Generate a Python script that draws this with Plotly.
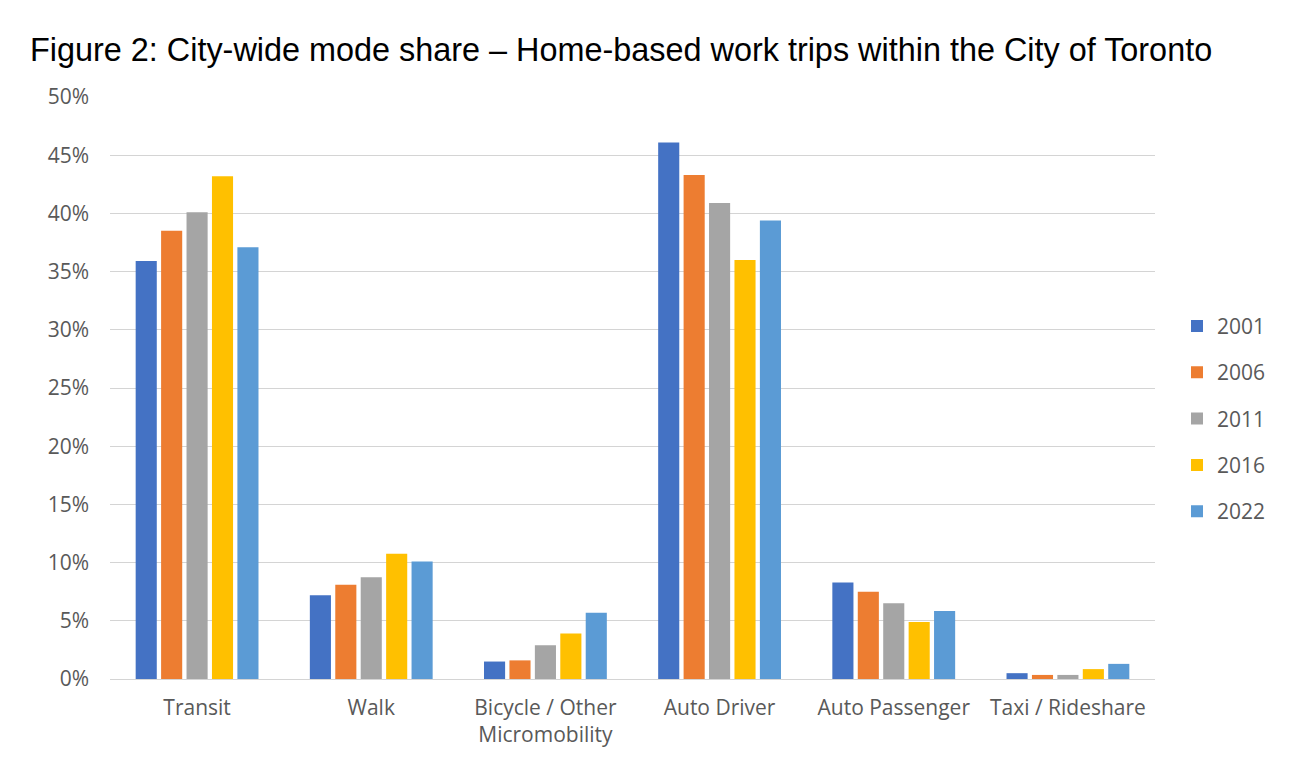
import plotly.graph_objects as go

modes = ["Transit", "Walk", "Bicycle / Other<br>Micromobility", "Auto Driver",
         "Auto Passenger", "Taxi / Rideshare"]
years = ["2001", "2006", "2011", "2016", "2022"]

share_2001 = [35.9, 7.2, 1.5, 46.1, 8.3, 0.5]
share_2006 = [38.5, 8.1, 1.6, 43.3, 7.5, 0.35]
share_2011 = [40.1, 8.75, 2.9, 40.9, 6.5, 0.35]
share_2016 = [43.2, 10.75, 3.9, 36.0, 4.9, 0.85]
share_2022 = [37.1, 10.1, 5.7, 39.4, 5.85, 1.3]

colors = ["#4472C4", "#ED7D31", "#A5A5A5", "#FFC000", "#5B9BD5"]

fig = go.Figure()
for year, vals, col in zip(years,
                           [share_2001, share_2006, share_2011, share_2016, share_2022],
                           colors):
    fig.add_trace(go.Bar(
        x=modes,
        y=[v / 100 for v in vals],
        name=year,
        legendgroup=year,
        marker=dict(color=col, line=dict(width=0)),
    ))

# the page body has an 8px margin, so everything below is offset by -8px
fig.update_layout(
    title=dict(
        text="Figure 2: City-wide mode share – Home-based work trips within the City of Toronto",
        x=22 / 1298, xanchor="left",
        y=1 - 42 / 762, yanchor="middle",
        font=dict(family="Liberation Sans, Arial", size=32.4, color="black"),
    ),
    width=1298,
    height=762,
    margin=dict(l=102, r=151, t=89, b=91),
    plot_bgcolor="white",
    paper_bgcolor="white",
    barmode="group",
    bargap=0.27,
    bargroupgap=0.17,
    font=dict(family="Open Sans, Noto Sans", size=21, color="#595959"),
    legend=dict(
        x=1 + 22 / 1045, xanchor="left",
        y=0.447, yanchor="middle",
        traceorder="grouped",
        tracegroupgap=16,
        font=dict(size=21, color="#595959"),
    ),
)

fig.update_yaxes(
    range=[0, 0.5],
    dtick=0.05,
    tickformat=".0%",
    showgrid=True,
    gridcolor="#D4D4D4",
    gridwidth=1,
    zeroline=True,
    zerolinecolor="#D4D4D4",
    zerolinewidth=1,
    showline=False,
    ticks="",
    ticklabelstandoff=20,
)
fig.update_xaxes(
    showline=False,
    ticks="",
    tickangle=0,
    ticklabelstandoff=14,
)

fig.write_html("out.html")
